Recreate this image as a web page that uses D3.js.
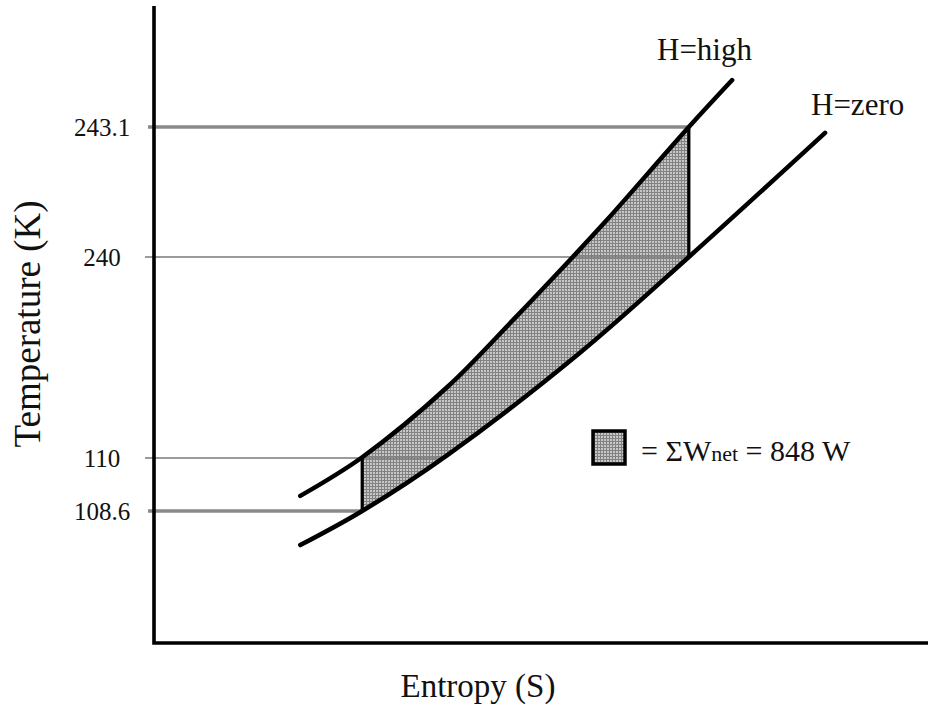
<!DOCTYPE html>
<html>
<head>
<meta charset="utf-8">
<script src="https://cdn.jsdelivr.net/npm/d3@7"></script>
<style>
  html, body { margin: 0; padding: 0; background: #fff; }
  svg { display: block; }
  text { font-family: "Liberation Serif", "DejaVu Serif", serif; fill: #111; }
</style>
</head>
<body>
<svg id="chart" width="928" height="707"></svg>
<script>
// Temperature ticks (K) marked on the vertical axis
const tempTicks = [108.6, 110, 240, 243.1];
// Entropy where each temperature guide line stops
const guideEndS = [2.69, 3.76, 6.91, 6.91];
// Guide lines drawn heavier than the others
const guideHeavy = [true, false, false, true];

// Constant-enthalpy lines in the T-S plane (entropy in arbitrary units)
const highS = [1.89, 2.69, 3.79, 4.64, 5.41, 5.85, 6.91, 7.47];
const highT = [109.0, 110.5, 155.9, 199.3, 240.0, 240.88, 243.1, 244.22];
const zeroS = [1.89, 2.69, 3.79, 5.50, 6.91, 8.67];
const zeroT = [107.7, 108.6, 111.9, 177.9, 240.0, 242.96];

// Net-work region bounds (entropy)
const cycleS = [2.69, 6.91];

const curveLabels = ["H=high", "H=zero"];
const netWork = 848;

const svg = d3.select("#chart");

const axisX = 154, axisTop = 6, axisBottom = 643, rightEdge = 928;

const x = d3.scaleLinear().domain([0, 10]).range([axisX, rightEdge]);
// Schematic temperature scale: piecewise linear through the marked values
const y = d3.scaleLinear().domain(tempTicks).range([511, 458, 257, 127]);

// Halftone fill
const defs = svg.append("defs");
const pat = defs.append("pattern")
  .attr("id", "halftone")
  .attr("patternUnits", "userSpaceOnUse")
  .attr("width", 3).attr("height", 3);
pat.append("rect").attr("width", 3).attr("height", 3).attr("fill", "#c6c6c6");
pat.append("path").attr("d", "M0,0.5H3M0.5,0V3").attr("stroke", "#828282").attr("stroke-width", 1);

defs.append("clipPath").attr("id", "cycleClip")
  .append("rect")
  .attr("x", x(cycleS[0])).attr("width", x(cycleS[1]) - x(cycleS[0]))
  .attr("y", 0).attr("height", 707);

const high = highS.map((s, i) => [s, highT[i]]);
const zero = zeroS.map((s, i) => [s, zeroT[i]]);

const line = d3.line()
  .x(d => x(d[0])).y(d => y(d[1]))
  .curve(d3.curveCatmullRom.alpha(0.5));

// Shaded band between the two curves, clipped to the cycle's entropy span
const bandPath = line(high) + "L" + line(zero.slice().reverse()).slice(1) + "Z";
svg.append("path")
  .attr("d", bandPath)
  .attr("fill", "url(#halftone)")
  .attr("clip-path", "url(#cycleClip)");

// Temperature guide lines
svg.append("g").selectAll("line")
  .data(tempTicks)
  .join("line")
  .attr("x1", (d, i) => axisX - (guideHeavy[i] ? 6 : 9))
  .attr("x2", (d, i) => x(guideEndS[i]))
  .attr("y1", d => y(d)).attr("y2", d => y(d))
  .attr("stroke", (d, i) => guideHeavy[i] ? "#8a8a8a" : "#7a7a7a")
  .attr("stroke-width", (d, i) => guideHeavy[i] ? 3.5 : 1.6);

// Vertical edges of the cycle
const hAt = s => highT[highS.indexOf(s)];
const zAt = s => zeroT[zeroS.indexOf(s)];
svg.append("g").selectAll("line")
  .data(cycleS)
  .join("line")
  .attr("x1", d => x(d)).attr("x2", d => x(d))
  .attr("y1", d => y(hAt(d))).attr("y2", d => y(zAt(d)))
  .attr("stroke", "#000").attr("stroke-width", 3.2);

// Enthalpy curves
svg.append("g").selectAll("path")
  .data([high, zero])
  .join("path")
  .attr("d", line)
  .attr("fill", "none")
  .attr("stroke", "#000")
  .attr("stroke-width", 4.5)
  .attr("stroke-linecap", "round");

// Axes frame
svg.append("path")
  .attr("d", `M${axisX},${axisTop}V${axisBottom}H${rightEdge}`)
  .attr("fill", "none").attr("stroke", "#000").attr("stroke-width", 3.6);

// Tick labels
const yAxis = d3.axisLeft(y).tickValues(tempTicks).tickSize(0).tickFormat(d => String(d));
const gy = svg.append("g").attr("transform", `translate(${axisX},0)`).call(yAxis);
gy.select(".domain").remove();
gy.selectAll("text")
  .attr("x", -52)
  .attr("text-anchor", "middle")
  .style("font-family", '"Liberation Serif", serif')
  .style("font-size", "25px")
  .attr("fill", "#111");

// Axis titles
svg.append("text")
  .attr("transform", "translate(40,324) rotate(-90)")
  .attr("text-anchor", "middle")
  .style("font-size", "37px")
  .text("Temperature  (K)");
svg.append("text")
  .attr("x", 478).attr("y", 697)
  .attr("text-anchor", "middle")
  .style("font-size", "33px")
  .text("Entropy (S)");

// Curve labels
svg.append("text").attr("x", 657).attr("y", 60).style("font-size", "31px").text(curveLabels[0]);
svg.append("text").attr("x", 811).attr("y", 115).style("font-size", "31px").text(curveLabels[1]);

// Legend
svg.append("rect")
  .attr("x", 593).attr("y", 431).attr("width", 32).attr("height", 33)
  .attr("fill", "url(#halftone)").attr("stroke", "#000").attr("stroke-width", 3.5);
const lt = svg.append("text").attr("x", 641).attr("y", 461).style("font-size", "30px");
lt.append("tspan").text("= ΣW");
lt.append("tspan").style("font-size", "22px").text("net");
lt.append("tspan").text(` = ${netWork} W`);
</script>
</body>
</html>
